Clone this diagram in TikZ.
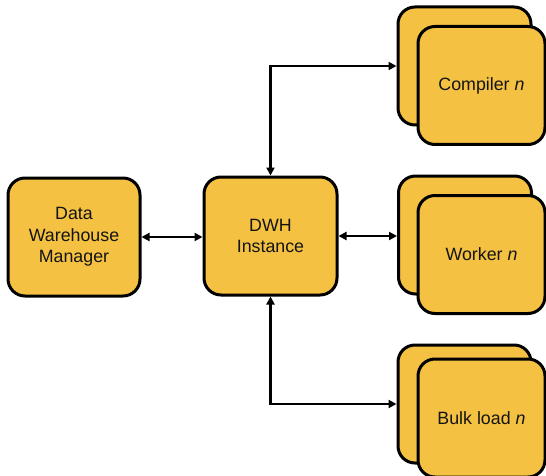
\documentclass[tikz,border=0pt]{standalone}
\usepackage{fontspec}
\setmainfont{Liberation Sans}
\usetikzlibrary{arrows.meta}
\definecolor{boxfill}{RGB}{244,193,66}
\definecolor{txt}{RGB}{20,20,20}
\tikzset{
  box/.style={draw=black, line width=3pt, fill=boxfill, rounded corners=17pt,
    minimum width=#1, minimum height=118pt, inner sep=0pt, align=center,
    text=txt, font=\fontsize{17.8pt}{21.7pt}\selectfont},
  box/.default=133pt,
  conn/.style={line width=2.8pt, {Triangle[length=8pt,width=8pt]}-{Triangle[length=8pt,width=8pt]}}
}
\begin{document}
\begin{tikzpicture}[x=1pt,y=-1pt]
\useasboundingbox (0,0) rectangle (546,476);
\node[box=132pt] (dwm) at (74,237) {Data\\Warehouse\\Manager};
\node[box] (dwh) at (270.5,236) {DWH\\Instance};
% Compiler
\node[box] (cb) at (464.5,66) {};
\node[box=127pt] (cf) at (481.5,85.5) {Compiler \textit{n}};
% Worker
\node[box] (wb) at (465,235) {};
\node[box=127pt] (wf) at (481.5,254.5) {Worker \textit{n}};
% Bulk load
\node[box] (bb) at (464.5,404) {};
\node[box=127pt] (bf) at (481.5,418) {Bulk load \textit{n}};
% connectors
\draw[conn] (dwm.east) -- (dwm.east -| dwh.west);
\draw[conn] (dwh.east) -- (dwh.east -| wb.west);
\draw[conn] (dwh.north) |- (cb.west);
\draw[conn] (dwh.south) |- (bb.west);
\end{tikzpicture}
\end{document}
